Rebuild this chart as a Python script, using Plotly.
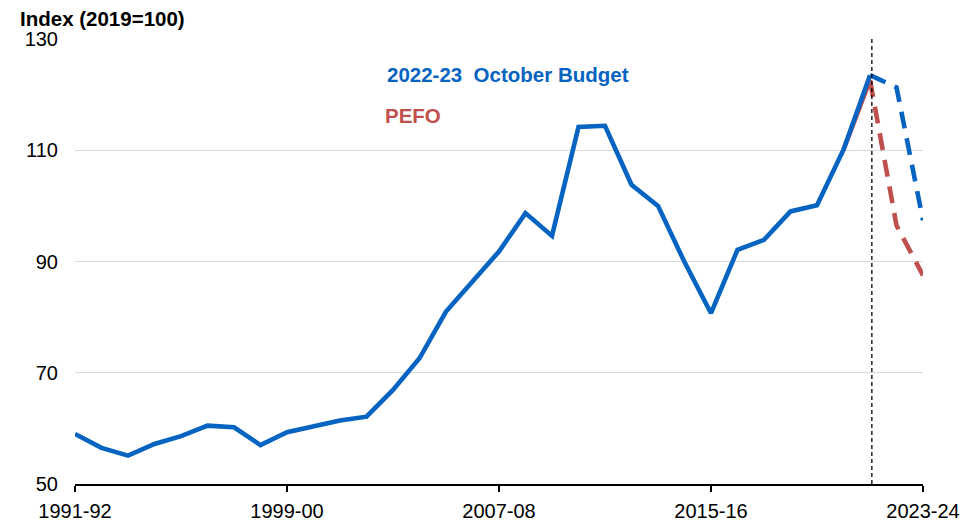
import plotly.graph_objects as go

years = ["1991-92", "1992-93", "1993-94", "1994-95", "1995-96", "1996-97", "1997-98",
         "1998-99", "1999-00", "2000-01", "2001-02", "2002-03", "2003-04", "2004-05",
         "2005-06", "2006-07", "2007-08", "2008-09", "2009-10", "2010-11", "2011-12",
         "2012-13", "2013-14", "2014-15", "2015-16", "2016-17", "2017-18", "2018-19",
         "2019-20", "2020-21", "2021-22", "2022-23", "2023-24"]

history = [59.0, 56.5, 55.1, 57.2, 58.6, 60.5, 60.2, 57.0, 59.3, 60.4, 61.4, 62.1,
           66.9, 72.6, 81.0, 86.4, 91.8, 98.7, 94.6, 114.2, 114.4, 103.8, 100.0,
           89.9, 80.7, 92.1, 93.9, 99.0, 100.1, 110.1, 123.5]

budget_years = ["2021-22", "2022-23", "2023-24"]
budget_values = [123.5, 121.3, 97.4]

pefo_hist_years = ["2020-21", "2021-22"]
pefo_hist_values = [110.1, 122.6]
pefo_years = ["2021-22", "2022-23", "2023-24"]
pefo_values = [122.6, 96.5, 87.5]

tick_labels = ["1991-92", "1999-00", "2007-08", "2015-16", "2023-24"]

BLUE = "#0563C1"
RED = "#C0504D"
FONT = "Liberation Sans, Arial, sans-serif"

W, H = 964, 529
L, T, PW, PH = 75, 39, 848, 445

fig = go.Figure()
fig.add_trace(go.Scatter(x=pefo_hist_years, y=pefo_hist_values, mode="lines",
                         line=dict(color=RED, width=4.6), showlegend=False))
fig.add_trace(go.Scatter(x=pefo_years, y=pefo_values, mode="lines",
                         line=dict(color=RED, width=4.6, dash="17px,10px"), showlegend=False))
fig.add_trace(go.Scatter(x=budget_years, y=budget_values, mode="lines",
                         line=dict(color=BLUE, width=4.6, dash="17px,10px"), showlegend=False))
fig.add_trace(go.Scatter(x=years[:len(history)], y=history, mode="lines",
                         line=dict(color=BLUE, width=4.6), showlegend=False))

fig.add_shape(type="line", xref="x", yref="y", x0=30.07, x1=30.07, y0=50, y1=130,
              line=dict(color="black", width=1.3, dash="4px,3px"))

fig.add_annotation(x=11.7, y=123.7, xref="x", yref="y", text="<b>2022-23  October Budget</b>",
                   showarrow=False, xanchor="left", yanchor="middle",
                   font=dict(family=FONT, size=20.5, color=BLUE))
fig.add_annotation(x=11.63, y=116.3, xref="x", yref="y", text="<b>PEFO</b>",
                   showarrow=False, xanchor="left", yanchor="middle",
                   font=dict(family=FONT, size=20.5, color=RED))
fig.add_annotation(x=(18 - L) / PW, y=1 + (T - 19) / PH, xref="paper", yref="paper",
                   text="<b>Index (2019=100)</b>",
                   showarrow=False, xanchor="left", yanchor="middle",
                   font=dict(family=FONT, size=20.5, color="black"))

fig.update_layout(
    width=W, height=H,
    margin=dict(l=L, r=W - L - PW, t=T, b=H - T - PH, autoexpand=False),
    paper_bgcolor="white", plot_bgcolor="white",
    font=dict(family=FONT, size=20, color="black"),
)
fig.update_xaxes(type="category", categoryorder="array", categoryarray=years,
                 range=[0, 32], tickmode="array", tickvals=tick_labels, ticktext=tick_labels,
                 showgrid=False, showline=True, linecolor="black", linewidth=2,
                 ticks="outside", ticklen=6, tickwidth=2, tickcolor="black",
                 ticklabelstandoff=2, zeroline=False, automargin=False)
fig.update_yaxes(range=[50, 130], tickvals=[50, 70, 90, 110, 130],
                 showgrid=True, gridcolor="#D9D9D9", gridwidth=1.3,
                 showline=False, zeroline=False, ticks="", ticklabelstandoff=16,
                 automargin=False)

fig.write_html("out.html", config={"displayModeBar": False},
               post_script="document.body.style.margin='0';document.body.style.overflow='hidden';")
